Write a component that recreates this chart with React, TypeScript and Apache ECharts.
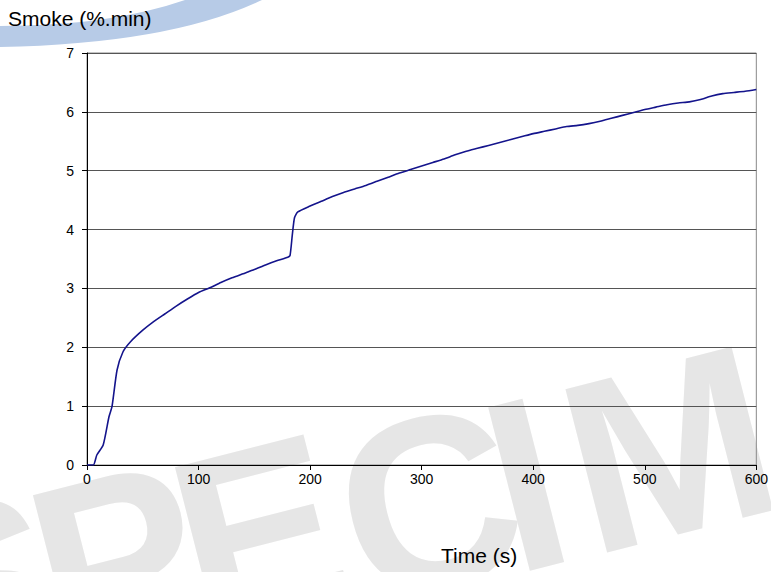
import React, { useEffect, useRef } from "react";
import * as echarts from "echarts";

const timeS = [0, 5.7, 8.8, 14.5, 19.7, 22.4, 26.9, 32.2, 38.8, 50, 60, 70, 80, 90, 100, 110, 120, 130, 140, 150, 160, 170, 180, 182, 184, 186, 189, 200, 210, 220, 230, 240, 250, 260, 270, 280, 290, 300, 310, 320, 330, 340, 350, 360, 370, 380, 390, 400, 410, 420, 430, 440, 450, 460, 470, 480, 490, 500, 510, 520, 530, 540, 550, 560, 570, 580, 590, 600];
const smoke = [0, 0, 0.17, 0.34, 0.82, 0.99, 1.61, 1.92, 2.09, 2.29, 2.44, 2.57, 2.7, 2.82, 2.93, 3.01, 3.1, 3.18, 3.25, 3.32, 3.4, 3.47, 3.53, 3.56, 3.9, 4.2, 4.3, 4.4, 4.48, 4.56, 4.63, 4.69, 4.75, 4.82, 4.89, 4.96, 5.02, 5.08, 5.14, 5.2, 5.27, 5.33, 5.38, 5.43, 5.48, 5.53, 5.58, 5.63, 5.67, 5.71, 5.75, 5.77, 5.8, 5.84, 5.89, 5.94, 5.99, 6.04, 6.08, 6.12, 6.15, 6.17, 6.21, 6.27, 6.31, 6.33, 6.35, 6.38];
const yTitle = "Smoke (%.min)";
const xTitle = "Time (s)";
const watermarkLetters = ["S", "P", "E", "C", "I", "M"];

export default function App() {
  const ref = useRef<HTMLDivElement>(null);
  useEffect(() => {
    if (!ref.current) return;
    echarts.graphic.registerShape(
      "swoosh",
      echarts.graphic.extendPath("M0 26 Q110 26 185 0 L262 0 Q170 44 0 47 Z", {})
    );
    const chart = echarts.init(ref.current, null, { renderer: "svg" });
    const font = "Liberation Sans, Arial, sans-serif";
    const centers = [
      [-25, 588],
      [117, 560],
      [259, 532],
      [429, 503],
      [526, 484],
      [669, 449],
    ];
    const wm = watermarkLetters.map((ch, i) => ({
      type: "text",
      z: -10,
      silent: true,
      x: centers[i][0],
      y: centers[i][1],
      rotation: 0.25,
      style: {
        text: ch,
        fill: "#e6e6e6",
        fontSize: 245,
        fontWeight: "bold",
        fontFamily: font,
        align: "center",
        verticalAlign: "middle",
      },
    }));
    chart.setOption({
      animation: false,
      backgroundColor: "#fff",
      grid: {
        left: 87,
        right: 14,
        top: 53,
        bottom: 107,
        show: true,
        borderColor: "#888",
        borderWidth: 1,
        backgroundColor: "transparent",
      },
      xAxis: {
        type: "value",
        min: 0,
        max: 600,
        interval: 100,
        axisLine: { show: true, onZero: false, lineStyle: { color: "#000", width: 1 } },
        axisTick: { show: true, inside: false, length: 5, lineStyle: { color: "#000" } },
        axisLabel: { color: "#000", fontSize: 14, fontFamily: font, margin: 7 },
        splitLine: { show: false },
      },
      yAxis: {
        type: "value",
        min: 0,
        max: 7,
        interval: 1,
        axisLine: { show: true, lineStyle: { color: "#000", width: 1 } },
        axisTick: { show: true, inside: false, length: 5, lineStyle: { color: "#000" } },
        axisLabel: { color: "#000", fontSize: 14, fontFamily: font, margin: 13 },
        splitLine: { show: true, lineStyle: { color: "#555", width: 1 } },
      },
      graphic: [
        ...wm,
        {
          type: "swoosh",
          z: -5,
          silent: true,
          x: 0,
          y: 0,
          style: { fill: "#b7cbe7" },
        },
        {
          type: "text",
          left: 8,
          top: 8,
          style: { text: yTitle, fill: "#000", fontSize: 21, fontFamily: font },
        },
        {
          type: "text",
          left: 441,
          top: 545,
          style: { text: xTitle, fill: "#000", fontSize: 21, fontFamily: font },
        },
      ],
      series: [
        {
          type: "line",
          data: timeS.map((t, i) => [t, smoke[i]]),
          showSymbol: false,
          smooth: 0.2,
          lineStyle: { color: "#14148c", width: 1.6 },
          z: 5,
        },
      ],
    });
    return () => chart.dispose();
  }, []);
  return <div ref={ref} style={{ width: 771, height: 572, position: "absolute", left: 0, top: 0 }} />;
}
